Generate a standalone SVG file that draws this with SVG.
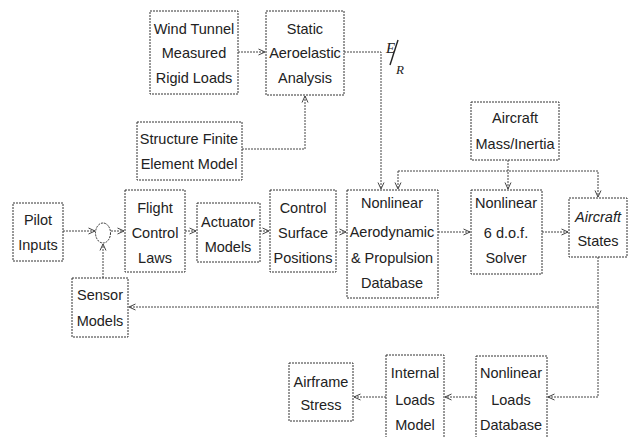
<svg xmlns="http://www.w3.org/2000/svg" width="633" height="437" viewBox="0 0 633 437">
<defs>
<marker id="arr" viewBox="0 0 8 8" refX="7.5" refY="4" markerWidth="8" markerHeight="8" markerUnits="userSpaceOnUse" orient="auto">
<path d="M1,1 L7.5,4 L1,7" fill="none" stroke="#444" stroke-width="1"/>
</marker>
</defs>
<style>
.box{fill:#fff;stroke:#333;stroke-width:1;stroke-dasharray:2 1}
.lbl{font-family:"Liberation Sans",Arial,sans-serif;font-size:14.5px;fill:#222;text-anchor:middle}
.c{fill:none;stroke:#444;stroke-width:1;stroke-dasharray:2 1}
.a{marker-end:url(#arr)}
</style>
<rect width="633" height="437" fill="#fff"/>
<g id="connectors">
<path class="c a" d="M238,52 H265"/>
<path class="c a" d="M242,149 H305 V96"/>
<path class="c a" d="M344,52 H381 V189"/>
<path class="c a" d="M63,231 H95"/>
<path class="c a" d="M111,231 H124"/>
<path class="c a" d="M103,278 V244"/>
<path class="c a" d="M185,231 H196"/>
<path class="c a" d="M260,231 H269"/>
<path class="c a" d="M336,232 H346"/>
<path class="c a" d="M438,232 H470"/>
<path class="c a" d="M542,232 H568"/>
<path class="c a" d="M508,160 V189"/>
<path class="c a" d="M398,171 V189"/>
<path class="c a" d="M398,171 H598 V197"/>
<path class="c a" d="M598,257 V307 H129"/>
<path class="c a" d="M598,307 V397 H548"/>
<path class="c a" d="M476,397 H445"/>
<path class="c a" d="M386,397 H354"/>
</g>
<g id="er">
<text x="386" y="53" font-family="Liberation Serif,serif" font-style="italic" font-size="15" fill="#222">E</text>
<line x1="398" y1="40" x2="390" y2="65" stroke="#222" stroke-width="1.4"/>
<text x="396" y="74" font-family="Liberation Serif,serif" font-style="italic" font-size="13" fill="#222">R</text>
</g>
<g id="wind-tunnel"><rect class="box" x="150" y="11" width="88" height="83"/>
<text class="lbl" x="194" y="34">Wind Tunnel</text><text class="lbl" x="194" y="58">Measured</text><text class="lbl" x="194" y="83">Rigid Loads</text></g>
<g id="static-aero"><rect class="box" x="266" y="11" width="78" height="84"/>
<text class="lbl" x="305" y="34">Static</text><text class="lbl" x="305" y="58">Aeroelastic</text><text class="lbl" x="305" y="83">Analysis</text></g>
<g id="structure-fem"><rect class="box" x="137" y="122" width="105" height="58"/>
<text class="lbl" x="189" y="144">Structure Finite</text><text class="lbl" x="189" y="169">Element Model</text></g>
<g id="mass-inertia"><rect class="box" x="471" y="102" width="88" height="58"/>
<text class="lbl" x="515" y="123">Aircraft</text><text class="lbl" x="515" y="149">Mass/Inertia</text></g>
<g id="pilot"><rect class="box" x="13" y="203" width="50" height="58"/>
<text class="lbl" x="38" y="225">Pilot</text><text class="lbl" x="38" y="250">Inputs</text></g>
<g id="sum"><ellipse cx="103" cy="233" rx="7.5" ry="10" fill="#fff" stroke="#333" stroke-width="1" stroke-dasharray="2 1"/></g>
<g id="flight-control"><rect class="box" x="125" y="190" width="60" height="82"/>
<text class="lbl" x="155" y="213">Flight</text><text class="lbl" x="155" y="238">Control</text><text class="lbl" x="155" y="263">Laws</text></g>
<g id="actuator"><rect class="box" x="197" y="203" width="63" height="59"/>
<text class="lbl" x="228" y="227">Actuator</text><text class="lbl" x="228" y="252">Models</text></g>
<g id="control-surface"><rect class="box" x="270" y="190" width="66" height="82"/>
<text class="lbl" x="303" y="213">Control</text><text class="lbl" x="303" y="238">Surface</text><text class="lbl" x="303" y="263">Positions</text></g>
<g id="sensor"><rect class="box" x="72" y="278" width="56" height="59"/>
<text class="lbl" x="100" y="300">Sensor</text><text class="lbl" x="100" y="326">Models</text></g>
<g id="aero-db"><rect class="box" x="347" y="190" width="91" height="108"/>
<text class="lbl" x="392" y="208">Nonlinear</text><text class="lbl" x="392" y="237">Aerodynamic</text><text class="lbl" x="392" y="263">&amp; Propulsion</text><text class="lbl" x="392" y="288">Database</text></g>
<g id="solver"><rect class="box" x="471" y="190" width="71" height="84"/>
<text class="lbl" x="506" y="208">Nonlinear</text><text class="lbl" x="506" y="238">6 d.o.f.</text><text class="lbl" x="506" y="263">Solver</text></g>
<g id="states"><rect class="box" x="569" y="198" width="58" height="59"/>
<text class="lbl" x="598" y="222" font-style="italic">Aircraft</text><text class="lbl" x="598" y="246">States</text></g>
<g id="airframe-stress"><rect class="box" x="289" y="363" width="64" height="58"/>
<text class="lbl" x="321" y="387">Airframe</text><text class="lbl" x="321" y="410">Stress</text></g>
<g id="internal-loads"><rect class="box" x="386" y="355" width="58" height="90"/>
<text class="lbl" x="415" y="378">Internal</text><text class="lbl" x="415" y="405">Loads</text><text class="lbl" x="415" y="430">Model</text></g>
<g id="loads-db"><rect class="box" x="476" y="356" width="71" height="90"/>
<text class="lbl" x="511" y="378">Nonlinear</text><text class="lbl" x="511" y="405">Loads</text><text class="lbl" x="511" y="430">Database</text></g>
</svg>
